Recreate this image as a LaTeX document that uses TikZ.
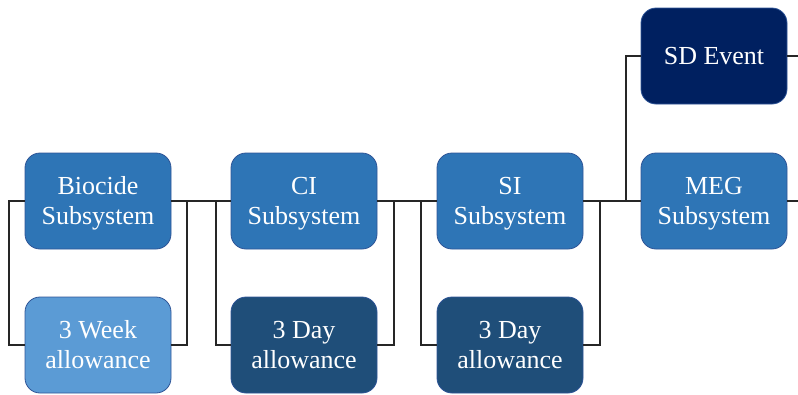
\documentclass[tikz,border=0pt]{standalone}
\usepackage{fontspec}
\setmainfont{Liberation Serif}
\definecolor{subblue}{HTML}{2E75B6}
\definecolor{weekblue}{HTML}{5B9BD5}
\definecolor{dayblue}{HTML}{1F4E79}
\definecolor{sdblue}{HTML}{002060}
\definecolor{edgeblue}{HTML}{2F5597}
\definecolor{linecol}{HTML}{262626}
\begin{document}
\begin{tikzpicture}[x=1pt,y=-1pt,
  blk/.style={rectangle,rounded corners=15pt,minimum width=146pt,minimum height=96pt,
    draw=edgeblue,line width=0.8pt,text=white,align=center,inner sep=0pt,
    font=\fontsize{26}{30}\selectfont,text height=47pt,text depth=0pt},
  sub/.style={blk,fill=subblue},
  week/.style={blk,fill=weekblue},
  day/.style={blk,fill=dayblue},
  sdbox/.style={blk,fill=sdblue,text height=17pt},
  conn/.style={draw=linecol,line width=2pt}]
\useasboundingbox (0,0) rectangle (798,394);
\node[sub]  (bio) at (98,201) {Biocide\\Subsystem};
\node[week] (wk3) at (98,345) {3 Week\\allowance};
\node[sub]  (ci)  at (304,201) {CI\\Subsystem};
\node[day]  (d3a) at (304,345) {3 Day\\allowance};
\node[sub]  (si)  at (510,201) {SI\\Subsystem};
\node[day]  (d3b) at (510,345) {3 Day\\allowance};
\node[sdbox] (sd) at (714,56) {SD Event};
\node[sub]  (meg) at (714,201) {MEG\\Subsystem};
\coordinate (outsd) at (798,56);
\coordinate (outmeg) at (798,201);
% block 1
\draw[conn] (bio.west) -- ++(-16,0) |- (wk3.west);
\draw[conn] (wk3.east) -- ++(16,0) |- (bio.east);
\draw[conn] (bio.east) -- (ci.west);
% block 2
\draw[conn] (d3a.west) -- ++(-15,0) |- (ci.west);
\draw[conn] (d3a.east) -- ++(17,0) |- (ci.east);
\draw[conn] (ci.east) -- (si.west);
% block 3
\draw[conn] (d3b.west) -- ++(-16,0) |- (si.west);
\draw[conn] (d3b.east) -- ++(17,0) |- (si.east);
\draw[conn] (si.east) -- (meg.west);
% block 4
\draw[conn] (sd.west) -- ++(-15,0) |- (meg.west);
\draw[conn] (sd.east) -- (outsd);
\draw[conn] (meg.east) -- (outmeg);
\end{tikzpicture}
\end{document}
